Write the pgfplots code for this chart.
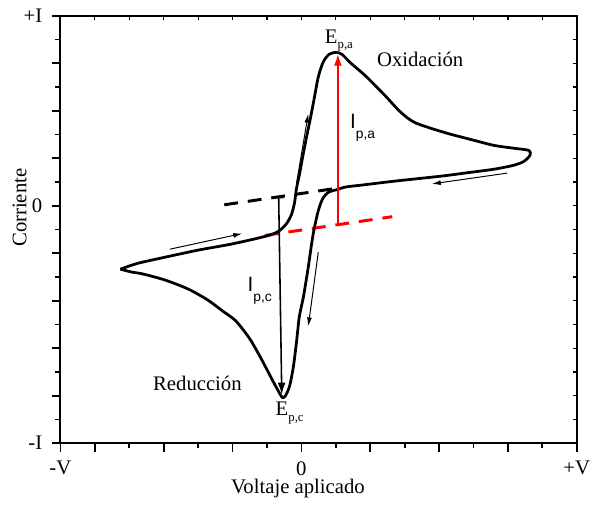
\documentclass[border=0pt]{standalone}
\usepackage{fontspec}
\setmainfont{Liberation Serif}
\newfontfamily\arial{Liberation Sans}
\usepackage{pgfplots}
\pgfplotsset{compat=1.18}
\usetikzlibrary{arrows.meta}

\newcommand{\sub}[1]{\raisebox{-0.55ex}{\fontsize{6.5}{7}\selectfont #1}}
\newcommand{\Isub}[1]{{\arial I\raisebox{-0.9ex}{\fontsize{7}{8}\selectfont #1}}}

\begin{document}
\fontsize{10.5}{12.6}\selectfont
\begin{tikzpicture}
\pgfplotsset{
  cv/.style={
    width=261bp, height=216bp, scale only axis,
    xmin=-7, xmax=8, ymin=-10, ymax=8,
    clip=false,
  }
}
% ticks on top and right, pointing inwards
\begin{axis}[cv,
    axis line style={draw=none},
    xtick pos=right, ytick pos=right, tick align=inside,
    xtick={-7,...,8}, ytick={-10,...,8},
    xticklabels={}, yticklabels={},
    major tick length=2bp, every tick/.style={black, line width=0.6pt},
]
\end{axis}
\begin{axis}[cv,
    axis line style={line width=1pt},
    xtick pos=left, ytick pos=left, tick align=outside,
    xtick={-7,-6,-4,-2,0,2,4,6,8},
    xticklabels={-V,,,,0,,,,+V},
    minor xtick={-5,-3,-1,1,3,5,7},
    ytick={-10,-8,-6,-4,-2,0,2,4,6,8},
    yticklabels={-I,,,,,0,,,,+I},
    minor ytick={-9,-7,-5,-3,-1,1,3,5,7},
    major tick length=4.5bp, minor tick length=2.5bp,
    every tick/.style={black, line width=0.9pt},
    xticklabel style={yshift=-1bp},
    yticklabel style={xshift=-1bp},
    xlabel={Voltaje aplicado},
    ylabel={Corriente},
    xlabel style={at={(axis description cs:0.46,-0.106)}, anchor=center},
    ylabel style={at={(axis description cs:-0.079,0.551)}, anchor=center},
]
% baselines
\addplot[black, line width=1.5pt, dash pattern=on 7bp off 5bp] coordinates {(-2.24,0.04) (1.09,0.75)};
\addplot[red, line width=1.5pt, dash pattern=on 7bp off 5bp] coordinates {(-1.06,-1.25) (2.64,-0.46)};
% voltammogram
\addplot[black, line width=1.4pt, line join=round, smooth, tension=0.45] coordinates {
(-5.26,-2.67) (-4.74,-2.42) (-3.97,-2.17) (-3.02,-1.875) (-2.07,-1.625)
(-1.29,-1.375) (-0.86,-1.21) (-0.63,-1.04) (-0.43,-0.75) (-0.29,-0.375)
(-0.20,0.125) (-0.14,0.75) (-0.06,1.29) (0.03,2.0) (0.14,2.83)
(0.26,3.67) (0.37,4.5) (0.49,5.42) (0.63,6.04) (0.80,6.375)
(1.01,6.46) (1.18,6.375) (1.44,6.0) (1.87,5.46) (2.44,4.625)
(2.87,3.96) (3.30,3.5) (4.17,3.08) (5.03,2.75) (5.60,2.54)
(6.18,2.42) (6.61,2.33) (6.64,2.125) (6.47,1.875) (6.18,1.71)
(5.60,1.54) (4.74,1.375) (4.08,1.25) (2.73,1.04) (1.78,0.875)
(1.29,0.79) (1.01,0.67) (0.80,0.58) (0.63,0.33) (0.49,-0.21)
(0.34,-1.21) (0.20,-2.58) (0.06,-3.83) (-0.06,-4.67) (-0.14,-5.71)
(-0.23,-6.75) (-0.34,-7.58) (-0.46,-8.0) (-0.55,-8.08) (-0.66,-7.83)
(-0.83,-7.375) (-1.01,-6.875) (-1.24,-6.25) (-1.49,-5.625) (-1.72,-5.17)
(-1.95,-4.79) (-2.30,-4.42) (-2.73,-3.96) (-3.30,-3.5) (-3.97,-3.125)
(-4.60,-2.875) (-4.94,-2.79) (-5.26,-2.67)
};
% peak currents
\addplot[red, line width=1pt, -{Latex[length=6bp,width=4bp]}] coordinates {(1.06,-0.79) (1.06,6.4)};
\addplot[black, line width=0.8pt, {Bar[width=5bp]}-{Latex[length=6bp,width=4bp]}] coordinates {(-0.66,0.375) (-0.57,-7.95)};
% scan direction arrows
\addplot[black, line width=0.5pt, -{Latex[length=4.5bp,width=2.5bp]}] coordinates {(-3.82,-1.83) (-1.72,-1.17)};
\addplot[black, line width=0.5pt, -{Latex[length=4.5bp,width=2.5bp]}] coordinates {(-0.14,0.96) (0.2,3.875)};
\addplot[black, line width=0.5pt, -{Latex[length=4.5bp,width=2.5bp]}] coordinates {(5.98,1.375) (3.79,0.92)};
\addplot[black, line width=0.5pt, -{Latex[length=4.5bp,width=2.5bp]}] coordinates {(0.49,-1.96) (0.2,-5.08)};
% labels
\node[anchor=base] at (axis cs:1.09,6.85) {E\sub{p,a}};
\node at (axis cs:3.45,6.17) {Oxidación};
\node at (axis cs:1.78,3.3) {\Isub{p,a}};
\node at (axis cs:-1.21,-3.6) {\Isub{p,c}};
\node at (axis cs:-3.02,-7.5) {Reducción};
\node[anchor=base] at (axis cs:-0.34,-8.85) {E\sub{p,c}};
% page extent
\path (rel axis cs:-0.117,-0.125) rectangle (rel axis cs:1.027,1.037);
\end{axis}
\end{tikzpicture}
\end{document}
